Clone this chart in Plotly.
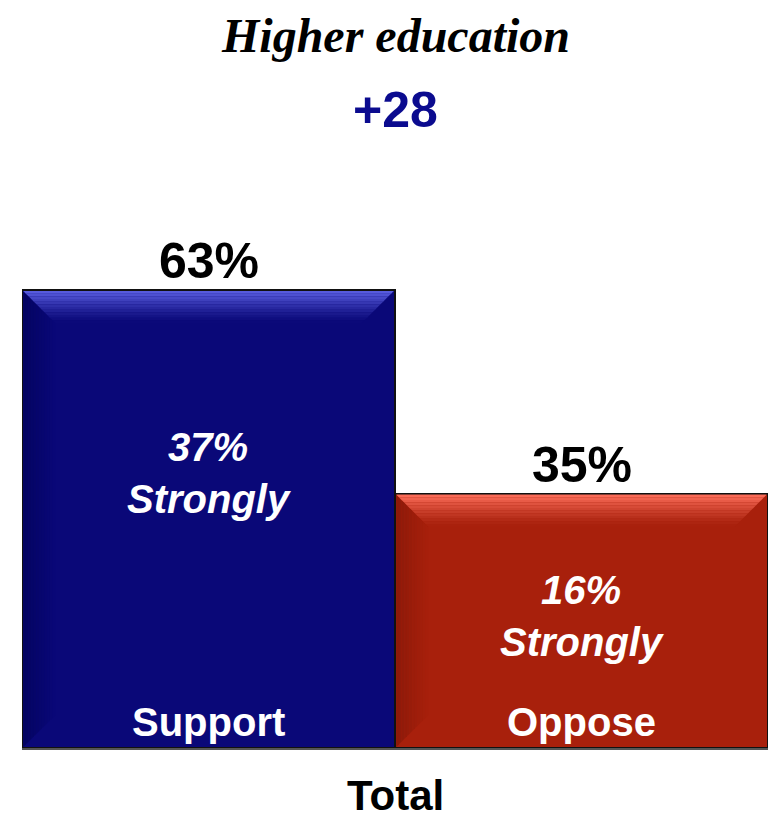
import plotly.graph_objects as go

# ---- data ----
categories = ["Support", "Oppose"]
totals = [63, 35]
strongly = [37, 16]
group_label = "Total"
chart_title = "Higher education"

base_colors = ["#0a0878", "#a8200c"]
top_colors = [(92, 96, 228), (255, 112, 92)]
side_colors = [(4, 4, 96), (140, 26, 10)]
base_rgb = [(10, 8, 120), (168, 32, 12)]

# page has an 8px body margin, so the figure is drawn 8px in from the top-left
OFF = 8
W, H = 776 - 2 * OFF, 818 - OFF
plot_bottom_screen = 748
plot_top_screen = 100
T = plot_top_screen - OFF
B = H - (plot_bottom_screen - OFF)
L, R = 22 - OFF, 0
plot_h = plot_bottom_screen - plot_top_screen
px_per_unit = 458 / 63.0
ymax = plot_h / px_per_unit


def paper_y(screen_y):
    return (plot_bottom_screen - screen_y) / plot_h


def mix(a, b, w):
    return tuple(int(a[j] + (b[j] - a[j]) * w) for j in range(3))


fig = go.Figure()
fig.add_trace(go.Bar(
    x=list(range(len(categories))), y=totals,
    marker=dict(color=base_colors, line=dict(color="#111111", width=2)),
    width=1.0, hoverinfo="skip", showlegend=False,
))

# bevel effect on each bar (simulated gradients)
shapes = []
x_px = (W - L - R) / 2.0
depth_px = 32
N = 12
for i, v in enumerate(totals):
    x0, x1 = i - 0.5, i + 0.5
    ytop = v - 1.0 / px_per_unit
    ybot = 1.0 / px_per_unit
    eps = 1.2 / x_px
    # left side bevel (darker toward the edge)
    for k in range(N):
        f0, f1 = k / N, (k + 1) / N
        xa = x0 + eps + f0 * depth_px / x_px
        xb = x0 + eps + f1 * depth_px / x_px
        ya_t = ytop - f0 * depth_px / px_per_unit
        yb_t = ytop - f1 * depth_px / px_per_unit
        ya_b = ybot + f0 * depth_px / px_per_unit
        yb_b = ybot + f1 * depth_px / px_per_unit
        w = (1 - (k + 0.5) / N)
        c = mix(base_rgb[i], side_colors[i], w)
        path = f"M {xa},{ya_t} L {xb},{yb_t} L {xb},{yb_b} L {xa},{ya_b} Z"
        shapes.append(dict(type="path", path=path, xref="x", yref="y",
                           fillcolor=f"rgb{c}", line=dict(width=0)))
    # top bevel (bright highlight fading down)
    for k in range(N):
        f0, f1 = k / N, (k + 1) / N
        ya = ytop - f0 * depth_px / px_per_unit
        yb = ytop - f1 * depth_px / px_per_unit
        ia = f0 * depth_px / x_px + eps
        ib = f1 * depth_px / x_px + eps
        w = (1 - (k + 0.5) / N) ** 1.3
        c = mix(base_rgb[i], top_colors[i], w)
        path = f"M {x0+ia},{ya} L {x1-ia},{ya} L {x1-ib},{yb} L {x0+ib},{yb} Z"
        shapes.append(dict(type="path", path=path, xref="x", yref="y",
                           fillcolor=f"rgb{c}", line=dict(width=0)))

annotations = []
for i, (c, v, s) in enumerate(zip(categories, totals, strongly)):
    annotations.append(dict(x=i, y=v, xref="x", yref="y", text=f"{v}%",
                            showarrow=False, yanchor="bottom", yshift=-1,
                            font=dict(family="Liberation Sans, Arial", size=50, color="black", weight="bold")))
    frac = 0.6 if i == 0 else 0.52
    annotations.append(dict(x=i, y=v * frac, xref="x", yref="y", text=f"{s}%<br>Strongly",
                            showarrow=False, yanchor="middle",
                            font=dict(family="Liberation Sans, Arial", size=40, color="white",
                                      weight="bold", style="italic")))
    annotations.append(dict(x=i, y=0, xref="x", yref="y", text=c,
                            showarrow=False, yanchor="bottom", yshift=2,
                            font=dict(family="Liberation Sans, Arial", size=40, color="white", weight="bold")))

annotations.append(dict(x=0.5, y=paper_y(795), xref="paper", yref="paper", text=group_label,
                        showarrow=False, yanchor="middle",
                        font=dict(family="Liberation Sans, Arial", size=42, color="black", weight="bold")))
annotations.append(dict(x=0.5, y=paper_y(35), xref="paper", yref="paper", text=chart_title,
                        showarrow=False, yanchor="middle",
                        font=dict(family="Liberation Serif, Times New Roman, serif", size=48, color="black",
                                  weight="bold", style="italic")))
diff = totals[0] - totals[1]
annotations.append(dict(x=0.5, y=paper_y(110), xref="paper", yref="paper", text=f"+{diff}",
                        showarrow=False, yanchor="middle",
                        font=dict(family="Liberation Sans, Arial", size=50, color="#0b0b8f", weight="bold")))

fig.update_layout(
    width=W, height=H, margin=dict(l=L, r=R, t=T, b=B),
    paper_bgcolor="white", plot_bgcolor="white",
    bargap=0, shapes=shapes, annotations=annotations,
    xaxis=dict(range=[-0.5, 1.5], showticklabels=False, showgrid=False, zeroline=False,
               showline=True, linecolor="#555555", linewidth=2, ticks=""),
    yaxis=dict(range=[0, ymax], visible=False, showgrid=False),
)
fig.write_html("out.html")
